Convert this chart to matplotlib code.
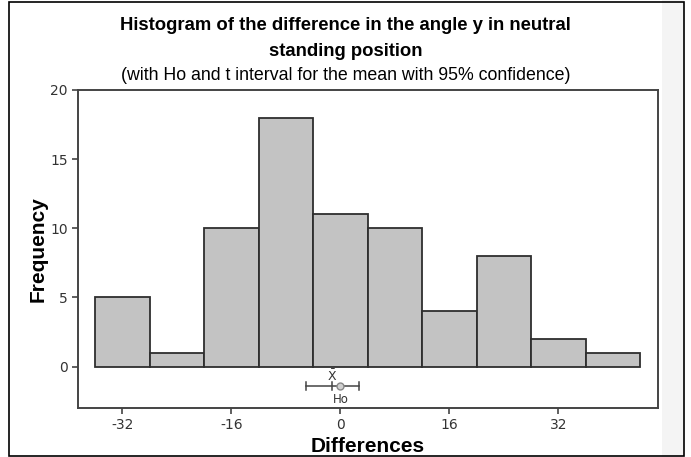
import matplotlib.pyplot as plt
from matplotlib.patches import Rectangle

plt.rcParams['axes.unicode_minus'] = False

# histogram data (bin width 8)
bin_edges = [-36, -28, -20, -12, -4, 4, 12, 20, 28, 36, 44]
counts = [5, 1, 10, 18, 11, 10, 4, 8, 2, 1]
x_ticks = [-32, -16, 0, 16, 32]
y_ticks = [0, 5, 10, 15, 20]

# t interval for the mean
mean_diff = -1.2
ci_low, ci_high = -5.1, 2.8
h0 = 0

fig = plt.figure(figsize=(6.91, 4.57), dpi=100)
fig.patch.set_facecolor('white')

# light side strip and outer frame, like the scanned figure
fig.patches.append(Rectangle((662 / 691, 0), 22 / 691, 1, transform=fig.transFigure,
                             facecolor='#f4f4f4', edgecolor='none', zorder=-1))
fig.patches.append(Rectangle((9 / 691, 0.003), 675 / 691, 0.993, transform=fig.transFigure,
                             facecolor='none', edgecolor='black', lw=1.2, zorder=5))

ax = fig.add_axes([78 / 691, 1 - 408 / 457, 580 / 691, 318 / 457])

widths = [bin_edges[i + 1] - bin_edges[i] for i in range(len(counts))]
ax.bar(bin_edges[:-1], counts, width=widths, align='edge',
       color='#c3c3c3', edgecolor='#2e2e2e', linewidth=1.3)

# confidence interval marker below the bars
y_ci = -1.42
ax.plot([ci_low, ci_high], [y_ci, y_ci], color='#444444', lw=1.1)
for xc in [ci_low, ci_high, mean_diff]:
    ax.plot([xc, xc], [y_ci - 0.3, y_ci + 0.3], color='#444444', lw=1.1)
ax.plot(h0, y_ci, marker='o', ms=5, mfc='#d0d0d0', mec='#888888', mew=1)
ax.text(mean_diff, -0.7, r'$\bar{\mathrm{X}}$', ha='center', va='center',
        fontsize=9, color='#333333')
ax.text(h0, -2.35, 'Ho', ha='center', va='center', fontsize=8.5, color='#333333')

ax.set_xlim(-38.5, 46.6)
ax.set_ylim(-3, 20)
ax.set_xticks(x_ticks)
ax.set_yticks(y_ticks)
ax.tick_params(direction='out', length=4, width=1.2, colors='#444444',
               labelsize=10, labelcolor='#333333')
for s in ax.spines.values():
    s.set_color('#444444')
    s.set_linewidth(1.4)

ax.set_xlabel('Differences', fontsize=15, fontweight='bold',
              family='Liberation Sans', labelpad=3)
ax.set_ylabel('Frequency', fontsize=15, fontweight='bold',
              family='Liberation Sans', labelpad=2)

fig.text(0.5, 1 - 25 / 457, 'Histogram of the difference in the angle y in neutral',
         ha='center', va='center', fontsize=13.3, fontweight='bold', family='Liberation Sans')
fig.text(0.5, 1 - 52 / 457, 'standing position',
         ha='center', va='center', fontsize=13.3, fontweight='bold', family='Liberation Sans')
fig.text(0.5, 1 - 76 / 457, '(with Ho and t interval for the mean with 95% confidence)',
         ha='center', va='center', fontsize=12.8, family='Liberation Sans')

fig.savefig('out.png', dpi=100)
